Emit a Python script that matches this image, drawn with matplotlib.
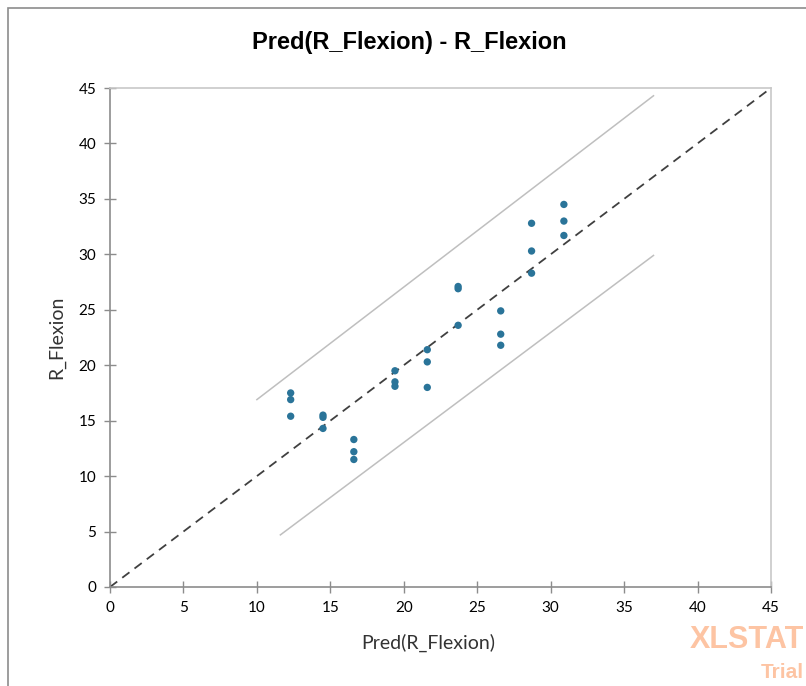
import matplotlib
matplotlib.use("Agg")
import matplotlib.pyplot as plt
from matplotlib.patches import Rectangle

# Data
pred = [12.3, 12.3, 12.3, 14.5, 14.5, 14.5, 16.6, 16.6, 16.6,
        19.4, 19.4, 19.4, 21.6, 21.6, 21.6, 23.7, 23.7, 23.7,
        26.6, 26.6, 26.6, 28.7, 28.7, 28.7, 30.9, 30.9, 30.9]
obs = [17.5, 16.9, 15.4, 15.5, 15.3, 14.3, 13.3, 12.2, 11.5,
       19.5, 18.5, 18.1, 21.4, 20.3, 18.0, 27.1, 26.9, 23.6,
       24.9, 22.8, 21.8, 32.8, 30.3, 28.3, 34.5, 33.0, 31.7]
upper_x = [10.0, 37.0]
upper_y = [16.9, 44.3]
lower_x = [11.6, 37.0]
lower_y = [4.7, 29.9]
ticks = [0, 5, 10, 15, 20, 25, 30, 35, 40, 45]

W, H = 806, 686
fig = plt.figure(figsize=(W / 100, H / 100), dpi=100)
fig.patches.append(Rectangle((8 / W, -0.01), 1.1, 1 - 8 / H + 0.01, transform=fig.transFigure,
                             fill=False, edgecolor="#8c8c8c", linewidth=1.2))

ax = fig.add_axes([110 / W, 1 - 587 / H, (771 - 110) / W, (587 - 88) / H])
ax.set_xlim(0, 45)
ax.set_ylim(0, 45)

ax.plot([0, 45], [0, 45], color="#404040", linestyle=(0, (5, 3.5)), linewidth=1.3, zorder=2)
ax.plot(upper_x, upper_y, color="#bfbfbf", linewidth=1.1, zorder=1)
ax.plot(lower_x, lower_y, color="#bfbfbf", linewidth=1.1, zorder=1)
ax.scatter(pred, obs, s=28, color="#2a7499", edgecolors="none", zorder=3)

tick_font = "Lato"
ax.set_xticks(ticks)
ax.set_yticks(ticks)
ax.set_xticklabels([str(t) for t in ticks], fontfamily=tick_font, fontsize=11)
ax.set_yticklabels([str(t) for t in ticks], fontfamily=tick_font, fontsize=11)
ax.tick_params(direction="inout", length=8, width=1, color="#8c8c8c", pad=6)

for s in ["left", "bottom"]:
    ax.spines[s].set_color("#8c8c8c")
    ax.spines[s].set_linewidth(1.2)
for s in ["top", "right"]:
    ax.spines[s].set_color("#c8c8c8")
    ax.spines[s].set_linewidth(1.2)

fig.text(428 / W, 1 - 643 / H, "Pred(R_Flexion)", fontfamily="Lato", fontsize=14,
         color="#333333", ha="center", va="center")
fig.text(57 / W, 1 - 337 / H, "R_Flexion", fontfamily="Lato", fontsize=14,
         color="#333333", ha="center", va="center", rotation=90)

fig.text(409 / W, 1 - 42 / H, "Pred(R_Flexion) - R_Flexion",
         fontfamily="Liberation Sans", fontweight="bold",
         fontsize=17, ha="center", va="center", color="black")

fig.text(804 / W, 1 - 640 / H, "XLSTAT", fontfamily="Liberation Sans", fontweight="bold",
         fontsize=22, ha="right", va="center", color="#fdc4a3")
fig.text(804 / W, 1 - 673 / H, "Trial", fontfamily="Liberation Sans", fontweight="bold",
         fontsize=15, ha="right", va="center", color="#fdc4a3")

fig.savefig("out.png", dpi=100)
